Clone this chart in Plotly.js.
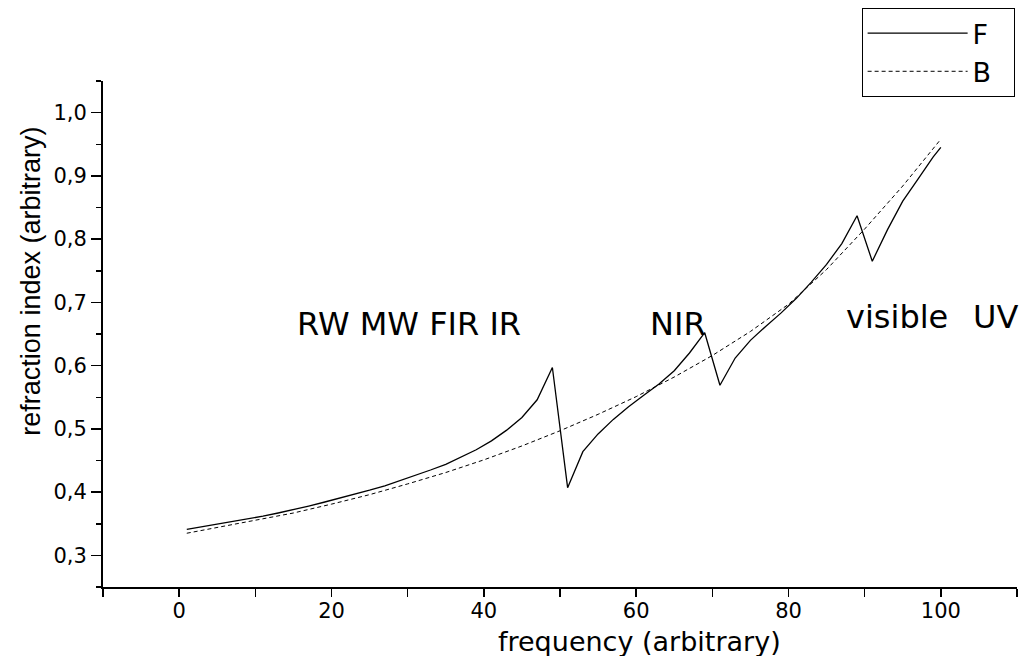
<!DOCTYPE html>
<html>
<head>
<meta charset="utf-8">
<script src="https://cdn.plot.ly/plotly-3.0.1.min.js"></script>
<style>html,body{margin:0;padding:0;background:#fff;}#chart{width:1024px;height:656px;}</style>
</head>
<body>
<div id="chart"></div>
<script>
// Data
var xF = [1,3,5,7,9,11,13,15,17,19,21,23,25,27,29,31,33,35,37,39,41,43,45,47,49,51,53,55,57,59,61,63,65,67,69,71,73,75,77,79,81,83,85,87,89,91,93,95,97,99,100];
var yF = [0.341,0.345,0.349,0.353,0.357,0.362,0.367,0.372,0.378,0.384,0.390,0.396,0.403,0.410,0.418,0.426,0.435,0.444,0.455,0.467,0.481,0.498,0.518,0.546,0.597,0.407,0.464,0.492,0.515,0.535,0.553,0.571,0.592,0.620,0.652,0.569,0.612,0.640,0.662,0.683,0.706,0.732,0.760,0.793,0.837,0.765,0.815,0.860,0.895,0.930,0.945];
var xB = [1,5,10,15,20,25,30,35,40,45,50,55,60,65,70,75,80,85,90,95,100];
var yB = [0.335,0.344,0.355,0.367,0.381,0.396,0.413,0.431,0.451,0.473,0.497,0.523,0.551,0.582,0.616,0.654,0.697,0.752,0.816,0.884,0.958];
var seriesNames = ['F','B'];
var bandLabels = ['RW MW FIR IR','NIR','visible','UV'];
var bandX = [30.2,65.5,94.3,107.2];
var bandY = [0.666,0.666,0.677,0.677];
var xTitle = 'frequency (arbitrary)';
var yTitle = 'refraction index (arbitrary)';

var WIDE = 'DejaVu Sans, Verdana, sans-serif';
var ARIAL = 'Liberation Sans, Arial, sans-serif';
var traces = [
  {x:xF, y:yF, name:seriesNames[0] + '\u00a0\u00a0', type:'scatter', mode:'lines', line:{color:'#000', width:1.3}},
  {x:xB, y:yB, name:seriesNames[1] + '\u00a0\u00a0', type:'scatter', mode:'lines', line:{color:'#000', width:1, dash:'4px,3px'}}
];
var annotations = bandLabels.map(function(t,i){
  return {x:bandX[i], y:bandY[i], xref:'x', yref:'y', text:t, showarrow:false,
          font:{family:WIDE, size:32, color:'#000'}, xanchor:'center', yanchor:'middle'};
});
annotations.push({x:0.5875, y:-0.14, xref:'paper', yref:'paper', text:xTitle, showarrow:false,
  font:{family:WIDE, size:27, color:'#000'}, xanchor:'center', yanchor:'bottom', borderpad:0});
annotations.push({x:-0.079, y:0.605, xref:'paper', yref:'paper', text:yTitle, showarrow:false, textangle:-90,
  font:{family:ARIAL, size:27, color:'#000'}, xanchor:'center', yanchor:'middle'});
var layout = {
  width:1024, height:656,
  margin:{l:103, r:7, t:81, b:69},
  paper_bgcolor:'#fff', plot_bgcolor:'#fff',
  font:{family:WIDE, color:'#000'},
  separators:',.',
  showlegend:true,
  legend:{x:0.830, y:1.144, xanchor:'left', yanchor:'top', bordercolor:'#000', borderwidth:1,
          bgcolor:'#fff', font:{family:WIDE, size:27, color:'#000'}, itemwidth:100},
  xaxis:{range:[-10,110], showline:true, linecolor:'#000', linewidth:2, mirror:false,
         showgrid:false, zeroline:false, ticks:'outside', ticklen:8, tickwidth:1.5, tickcolor:'#000',
         dtick:20, tick0:0, tickfont:{family:WIDE, size:21}, ticklabelstandoff:-4,
         minor:{dtick:10, ticks:'outside', ticklen:8, tickwidth:1.5, tickcolor:'#000', showgrid:false}},
  yaxis:{range:[0.25,1.05], showline:true, linecolor:'#000', linewidth:2,
         showgrid:false, zeroline:false, ticks:'outside', ticklen:10, tickwidth:1.5, tickcolor:'#000',
         dtick:0.1, tick0:0.3, tickformat:'.1f', tickfont:{family:WIDE, size:21},
         minor:{dtick:0.05, ticks:'outside', ticklen:5, tickwidth:1.5, tickcolor:'#000', showgrid:false}},
  annotations:annotations
};
Plotly.newPlot('chart', traces, layout, {displayModeBar:false, staticPlot:true});
</script>
</body>
</html>
